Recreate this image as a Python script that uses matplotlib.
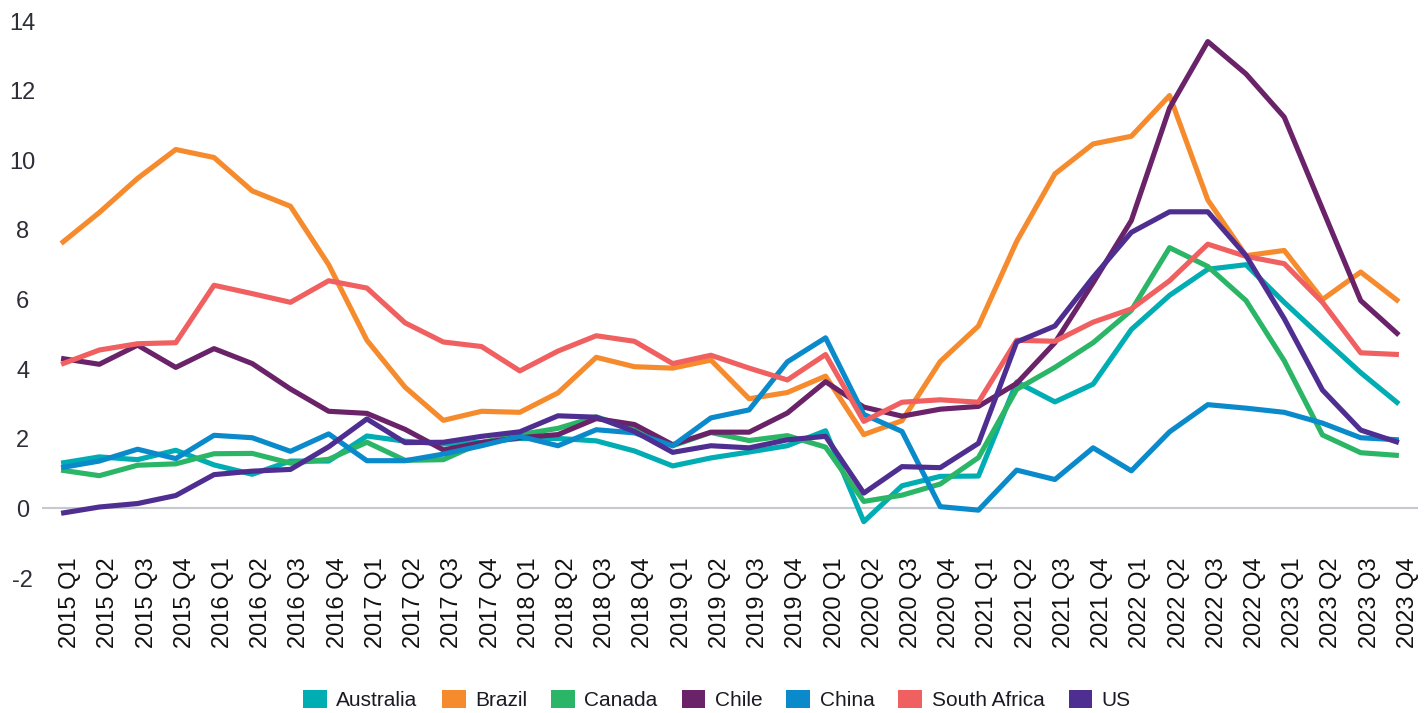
import matplotlib
matplotlib.use('Agg')
from matplotlib import pyplot as plt
from matplotlib.patches import Patch
from matplotlib.transforms import ScaledTranslation

years = range(2015, 2024)
quarters = [f'{y} Q{q}' for y in years for q in range(1, 5)]

australia = [1.3, 1.48, 1.4, 1.67, 1.25, 0.98, 1.36, 1.36, 2.08, 1.93, 1.85, 1.9,
             2.01, 2.01, 1.94, 1.65, 1.22, 1.45, 1.62, 1.8, 2.23, -0.38, 0.65, 0.92,
             0.93, 3.63, 3.06, 3.57, 5.14, 6.12, 6.87, 7.0, 5.92, 4.9, 3.9, 3.0]
brazil = [7.61, 8.5, 9.48, 10.31, 10.08, 9.12, 8.68, 7.0, 4.83, 3.48, 2.53, 2.79,
          2.76, 3.32, 4.34, 4.07, 4.03, 4.26, 3.15, 3.33, 3.8, 2.12, 2.52, 4.22,
          5.24, 7.67, 9.61, 10.47, 10.69, 11.86, 8.86, 7.26, 7.41, 6.0, 6.79, 5.94]
canada = [1.1, 0.94, 1.24, 1.28, 1.57, 1.58, 1.3, 1.41, 1.9, 1.38, 1.4, 1.89,
          2.12, 2.3, 2.63, 2.28, 1.8, 2.18, 1.95, 2.09, 1.76, 0.2, 0.38, 0.7,
          1.46, 3.42, 4.05, 4.76, 5.69, 7.49, 6.95, 5.97, 4.24, 2.11, 1.6, 1.52]
chile = [4.31, 4.14, 4.69, 4.05, 4.59, 4.16, 3.43, 2.79, 2.73, 2.27, 1.68, 1.89,
         2.03, 2.12, 2.58, 2.41, 1.83, 2.19, 2.19, 2.74, 3.64, 2.91, 2.65, 2.85,
         2.93, 3.59, 4.76, 6.48, 8.27, 11.5, 13.41, 12.48, 11.24, 8.6, 5.97, 4.98]
china = [1.17, 1.36, 1.7, 1.43, 2.1, 2.03, 1.64, 2.14, 1.37, 1.37, 1.56, 1.8,
         2.07, 1.8, 2.26, 2.17, 1.8, 2.6, 2.83, 4.21, 4.9, 2.7, 2.21, 0.05,
         -0.05, 1.1, 0.83, 1.74, 1.08, 2.2, 2.98, 2.88, 2.76, 2.45, 2.03, 1.97]
south_africa = [4.14, 4.55, 4.73, 4.76, 6.41, 6.17, 5.92, 6.54, 6.33, 5.33, 4.78, 4.65,
                3.95, 4.52, 4.96, 4.8, 4.16, 4.4, 4.03, 3.69, 4.42, 2.5, 3.05, 3.12,
                3.05, 4.83, 4.8, 5.35, 5.73, 6.54, 7.59, 7.24, 7.03, 5.92, 4.47, 4.42]
us = [-0.14, 0.04, 0.14, 0.37, 0.97, 1.07, 1.12, 1.77, 2.57, 1.89, 1.9, 2.07,
      2.2, 2.66, 2.62, 2.21, 1.61, 1.8, 1.74, 1.97, 2.07, 0.44, 1.2, 1.17,
      1.87, 4.78, 5.24, 6.64, 7.93, 8.52, 8.52, 7.26, 5.45, 3.4, 2.25, 1.89]

names = ['Australia', 'Brazil', 'Canada', 'Chile', 'China', 'South Africa', 'US']
series = [australia, brazil, canada, chile, china, south_africa, us]
colors = ['#00adb2', '#f68b2e', '#2bb566', '#6a2268', '#0a8acb', '#f06060', '#4e2e91']

plt.rcParams['font.family'] = ['Liberation Sans', 'DejaVu Sans']
plt.rcParams['axes.unicode_minus'] = False

fig = plt.figure(figsize=(14.24, 7.13), dpi=100)
ax = fig.add_axes([0.0295, 0.1893, 0.9663, 0.7812])

x = range(len(quarters))
ax.axhline(0, color='#c6cad0', linewidth=1.5, zorder=0)
for name, vals, c in zip(names, series, colors):
    ax.plot(x, vals, color=c, linewidth=3.7, label=name, solid_capstyle='butt')

ax.set_xlim(-0.5, len(quarters) - 0.5)
ax.set_ylim(-2, 14)
ax.set_yticks(range(-2, 15, 2))
ax.set_xticks(list(x))
ax.set_xticklabels(quarters, rotation=90, fontsize=17, color='#111111')
for lbl in ax.get_yticklabels():
    lbl.set_horizontalalignment('center')
ax.tick_params(axis='y', length=0, pad=14, labelsize=17, labelcolor='#2e2e38')
ax.tick_params(axis='x', length=0, pad=-15)

# 偏移x标签
offset = ScaledTranslation(0.09, 0, fig.dpi_scale_trans)
for lbl in ax.get_xticklabels():
    lbl.set_transform(lbl.get_transform() + offset)

for s in ax.spines.values():
    s.set_visible(False)

handles = [Patch(facecolor=c, edgecolor='none') for c in colors]
fig.legend(handles, names, loc='center', bbox_to_anchor=(0.5035, 0.018), ncol=7,
           frameon=False, fontsize=15, handlelength=1.15, handleheight=0.9,
           handletextpad=0.45, columnspacing=1.15, labelcolor='#1a1a24',
           borderpad=0, borderaxespad=0)

fig.savefig('out.png', dpi=100)
